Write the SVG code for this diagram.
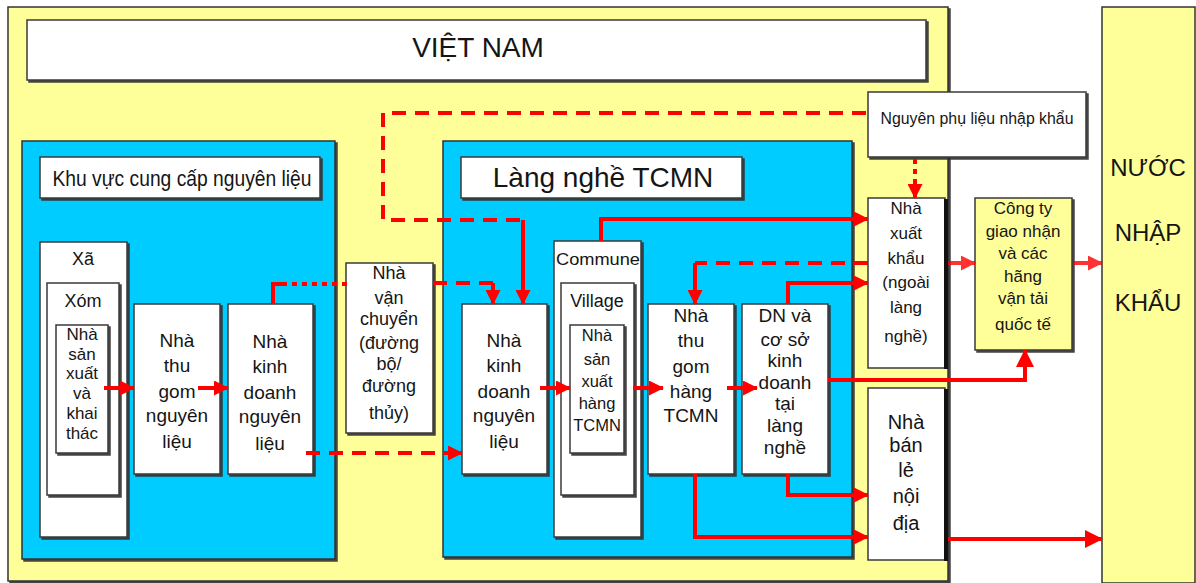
<svg xmlns="http://www.w3.org/2000/svg" width="1196" height="583" viewBox="0 0 1196 583">
<style>
.bx{fill:#fff;stroke:#3a3a3a;stroke-width:1.5;filter:url(#sh)}
.yb{fill:#ffff99;stroke:#3a3a3a;stroke-width:1.5;filter:url(#sh)}
.bl{fill:#00ccff;stroke:#333;stroke-width:1.5;filter:url(#sh)}
.t{font-family:"Liberation Sans",Arial,sans-serif;fill:#151515;text-anchor:middle}
.ln{fill:none;stroke:#ff0000;stroke-width:4}
.ds{stroke-dasharray:14 9}
.dt{stroke-dasharray:5 5}
</style>
<defs>
<filter id="sh" x="-10%" y="-10%" width="130%" height="130%">
<feDropShadow dx="2" dy="2" stdDeviation="0.7" flood-color="#333" flood-opacity="0.9"/>
</filter>
<marker id="ah" markerUnits="userSpaceOnUse" markerWidth="15" markerHeight="15" refX="14" refY="7.5" orient="auto">
<path d="M0,0 L15,7.5 L0,15 z" fill="#ff0000"/>
</marker>
<marker id="ahL" markerUnits="userSpaceOnUse" markerWidth="18" markerHeight="18" refX="17" refY="9" orient="auto">
<path d="M0,0 L18,9 L0,18 z" fill="#ff0000"/>
</marker>
</defs>

<g id="vietnam-region">
<rect x="8" y="7" width="940" height="574" fill="#ffff99" stroke="#333" stroke-width="1.5" filter="url(#sh)"/>
<rect class="bx" x="27" y="20" width="899" height="60"/>
<text class="t" x="478" y="57" font-size="28">VIỆT NAM</text>
</g>

<g id="nuoc-nhap-khau">
<rect x="1102" y="7" width="93" height="576" fill="#ffff99" stroke="#333" stroke-width="1.5"/>
<text class="t" x="1148" y="176" font-size="24">NƯỚC</text>
<text class="t" x="1148" y="241" font-size="24">NHẬP</text>
<text class="t" x="1148" y="311" font-size="24">KHẨU</text>
</g>

<g id="khu-vuc-cung-cap">
<rect class="bl" x="22" y="141" width="313" height="418"/>
<rect class="bx" x="40" y="157" width="280" height="41"/>
<text class="t" x="182" y="186" font-size="22" textLength="259" lengthAdjust="spacingAndGlyphs">Khu vực cung cấp nguyên liệu</text>
</g>

<g id="xa">
<rect class="bx" x="40" y="242" width="87" height="295"/>
<text class="t" x="83" y="265" font-size="18">Xã</text>
</g>
<g id="xom">
<rect class="bx" x="47" y="283" width="72" height="212"/>
<text class="t" x="83" y="307" font-size="18">Xóm</text>
</g>
<g id="nha-san-xuat-khai-thac">
<rect class="bx" x="56" y="325" width="52" height="128"/>
<text class="t" font-size="17"><tspan x="82" y="340">Nhà</tspan><tspan x="82" y="360">sản</tspan><tspan x="82" y="379">xuất</tspan><tspan x="82" y="399">và</tspan><tspan x="82" y="419">khai</tspan><tspan x="82" y="439">thác</tspan></text>
</g>
<g id="nha-thu-gom-nguyen-lieu">
<rect class="bx" x="134" y="304" width="86" height="170"/>
<text class="t" font-size="19"><tspan x="177" y="347">Nhà</tspan><tspan x="177" y="372">thu</tspan><tspan x="177" y="398">gom</tspan><tspan x="177" y="422">nguyên</tspan><tspan x="177" y="448">liệu</tspan></text>
</g>
<g id="nha-kinh-doanh-nguyen-lieu-1">
<rect class="bx" x="228" y="304" width="85" height="170"/>
<text class="t" font-size="19"><tspan x="270" y="348">Nhà</tspan><tspan x="270" y="373">kinh</tspan><tspan x="270" y="399">doanh</tspan><tspan x="270" y="423">nguyên</tspan><tspan x="270" y="450">liệu</tspan></text>
</g>

<g id="nha-van-chuyen">
<rect class="bx" x="346" y="263" width="87" height="170"/>
<text class="t" font-size="18"><tspan x="389" y="279">Nhà</tspan><tspan x="389" y="304">vận</tspan><tspan x="389" y="325">chuyển</tspan><tspan x="389" y="349">(đường</tspan><tspan x="389" y="370">bộ/</tspan><tspan x="389" y="392">đường</tspan><tspan x="389" y="419">thủy)</tspan></text>
</g>

<g id="lang-nghe">
<rect class="bl" x="443" y="141" width="409" height="416"/>
<rect class="bx" x="461" y="157" width="281" height="41"/>
<text class="t" x="603" y="187" font-size="28">Làng nghề TCMN</text>
</g>
<g id="nha-kinh-doanh-nguyen-lieu-2">
<rect class="bx" x="462" y="304" width="85" height="170"/>
<text class="t" font-size="19"><tspan x="504" y="347">Nhà</tspan><tspan x="504" y="372">kinh</tspan><tspan x="504" y="398">doanh</tspan><tspan x="504" y="422">nguyên</tspan><tspan x="504" y="448">liệu</tspan></text>
</g>
<g id="commune">
<rect class="bx" x="554" y="241" width="87" height="296"/>
<text class="t" x="598" y="265" font-size="17" textLength="84" lengthAdjust="spacingAndGlyphs">Commune</text>
</g>
<g id="village">
<rect class="bx" x="561" y="283" width="73" height="212"/>
<text class="t" x="597" y="307" font-size="18">Village</text>
</g>
<g id="nha-san-xuat-hang-tcmn">
<rect class="bx" x="570" y="325" width="54" height="128"/>
<text class="t" font-size="16.5"><tspan x="597" y="341">Nhà</tspan><tspan x="597" y="365">sản</tspan><tspan x="597" y="387">xuất</tspan><tspan x="597" y="409">hàng</tspan><tspan x="597" y="431">TCMN</tspan></text>
</g>
<g id="nha-thu-gom-hang-tcmn">
<rect class="bx" x="648" y="304" width="86" height="170"/>
<text class="t" font-size="19"><tspan x="691" y="322">Nhà</tspan><tspan x="691" y="347">thu</tspan><tspan x="691" y="373">gom</tspan><tspan x="691" y="398">hàng</tspan><tspan x="691" y="422">TCMN</tspan></text>
</g>
<g id="dn-co-so-kinh-doanh">
<rect class="bx" x="742" y="304" width="86" height="170"/>
<text class="t" font-size="19"><tspan x="785" y="322">DN và</tspan><tspan x="785" y="346">cơ sở</tspan><tspan x="785" y="367">kinh</tspan><tspan x="785" y="389">doanh</tspan><tspan x="785" y="410">tại</tspan><tspan x="785" y="432">làng</tspan><tspan x="785" y="454">nghề</tspan></text>
</g>

<g id="nguyen-phu-lieu-nhap-khau">
<rect class="bx" x="868" y="92" width="218" height="65"/>
<text class="t" x="977" y="124" font-size="16" textLength="193" lengthAdjust="spacingAndGlyphs">Nguyên phụ liệu nhập khẩu</text>
</g>
<g id="nha-xuat-khau">
<rect class="bx" x="868" y="198" width="77" height="170" style="filter:none"/>
<rect x="944" y="199" width="4" height="170" fill="#111"/>
<text class="t" font-size="17"><tspan x="906" y="214">Nhà</tspan><tspan x="906" y="239">xuất</tspan><tspan x="906" y="264">khẩu</tspan><tspan x="906" y="288">(ngoài</tspan><tspan x="906" y="313">làng</tspan><tspan x="906" y="342">nghề)</tspan></text>
</g>
<g id="nha-ban-le-noi-dia">
<rect class="bx" x="868" y="388" width="77" height="172" style="filter:none"/>
<rect x="944" y="389" width="4" height="172" fill="#111"/>
<text class="t" font-size="20"><tspan x="906" y="429">Nhà</tspan><tspan x="906" y="452">bán</tspan><tspan x="906" y="477">lẻ</tspan><tspan x="906" y="503">nội</tspan><tspan x="906" y="530">địa</tspan></text>
</g>
<g id="cong-ty-giao-nhan">
<rect class="yb" x="975" y="198" width="97" height="152"/>
<text class="t" font-size="17"><tspan x="1023" y="214">Công ty</tspan><tspan x="1023" y="237">giao nhận</tspan><tspan x="1023" y="259">và các</tspan><tspan x="1023" y="282">hãng</tspan><tspan x="1023" y="304">vận tải</tspan><tspan x="1023" y="330">quốc tế</tspan></text>
</g>

<g id="connectors">
<path class="ln" d="M104,388 H134" marker-end="url(#ah)"/>
<path class="ln" d="M198,388 H228" marker-end="url(#ah)"/>
<path class="ln" d="M540,388 H570" marker-end="url(#ah)"/>
<path class="ln" d="M633,388 H663" marker-end="url(#ah)"/>
<path class="ln" d="M727,388 H757" marker-end="url(#ah)"/>

<path class="ln ds" d="M866,113 H383 V220 H523"/>
<path class="ln" d="M523,220 V304" marker-end="url(#ah)"/>

<path class="ln" d="M273,304 V284 H282"/>
<path class="ln dt" d="M282,284 H352"/>
<path class="ln ds" d="M433,283 H493"/>
<path class="ln" d="M493,283 V304" marker-end="url(#ah)"/>

<path class="ln ds" d="M306,453 H450"/>
<path class="ln" d="M448,453 H462" marker-end="url(#ah)"/>

<path class="ln ds" d="M868,263 H695"/>
<path class="ln" d="M695,263 V304" marker-end="url(#ah)"/>

<path class="ln" d="M601,241 V219 H868" marker-end="url(#ah)"/>
<path class="ln" d="M788,304 V283 H868" marker-end="url(#ah)"/>
<path class="ln" d="M788,474 V495 H868" marker-end="url(#ah)"/>
<path class="ln" d="M695,474 V537 H868" marker-end="url(#ah)"/>
<path class="ln" stroke-width="5" d="M828,380 H1025 V350" marker-end="url(#ahL)"/>

<path class="ln dt" d="M915,159 V188"/>
<path class="ln" d="M915,186 V198" marker-end="url(#ah)"/>

<path class="ln" opacity="0.8" d="M948,263 H975" marker-end="url(#ah)"/>
<path class="ln" opacity="0.8" d="M1074,263 H1102" marker-end="url(#ah)"/>
<path class="ln" stroke-width="6" d="M948,539 H1102" marker-end="url(#ahL)"/>
</g>
</svg>
